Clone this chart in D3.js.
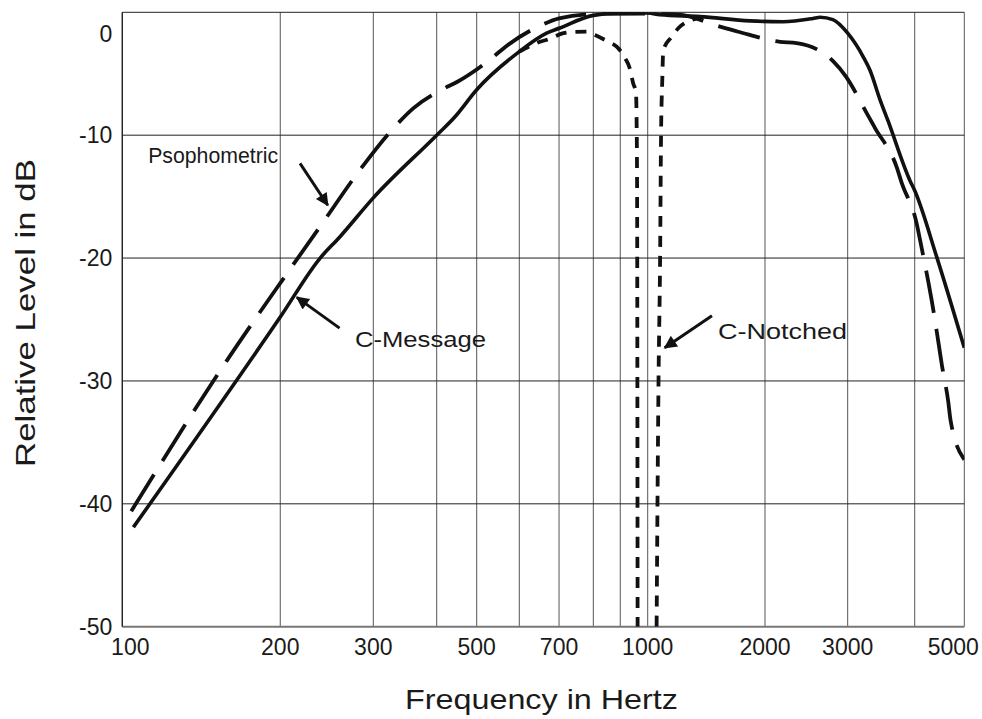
<!DOCTYPE html>
<html>
<head>
<meta charset="utf-8">
<script src="https://cdn.jsdelivr.net/npm/d3@7"></script>
<style>
  html, body { margin: 0; padding: 0; background: #fff; }
  svg { display: block; }
  text { font-family: "Liberation Sans", Arial, sans-serif; fill: #1a1a1a; }
</style>
</head>
<body>
<svg id="chart" width="982" height="719"></svg>
<script>
// Frequency gridlines (Hz) and level ticks (dB)
const freqGrid = [100, 200, 300, 400, 500, 600, 700, 800, 900, 1000, 2000, 3000, 4000, 5000];
const freqLabels = [100, 200, 300, 500, 700, 1000, 2000, 3000, 5000];
const levelTicks = [0, -10, -20, -30, -40, -50];

// The log paper is not evenly ruled: relative position of each frequency line
const freqStops = [0, 0.1876, 0.2981, 0.3734, 0.4209, 0.4715, 0.5187, 0.5594, 0.5914, 0.6240, 0.7633, 0.8615, 0.9411, 1];

// C-Message weighting [Hz, dB]
const cMessage = [
  [105, -41.9], [200, -24.8], [238, -20.0], [259, -18.3], [300, -15.1], [400, -10.0],
  [443, -8.5], [500, -6.3], [600, -3.2], [667, -1.7], [700, -1.3], [800, -0.25],
  [900, -0.05], [1000, -0.05], [1075, -0.2], [1362, -0.35], [1830, -0.7], [2185, -0.77],
  [2530, -0.5], [2620, -0.4], [2790, -0.6], [3000, -1.7], [3205, -3.6], [3300, -4.7],
  [3446, -7.1], [3565, -8.8], [3920, -13.7], [4000, -14.5], [4416, -19.9], [5000, -27.3]
];

// Psophometric weighting [Hz, dB]
const psophometric = [
  [104, -40.6], [159, -28.2], [206, -21.25], [240, -17.2], [280, -13.1], [331, -9.3],
  [360, -7.8], [411, -6.3], [449, -5.65], [533, -3.74], [568, -2.74], [655, -1.03],
  [700, -0.5], [800, -0.15], [1000, -0.1], [1210, -0.2], [1533, -1.17], [1708, -1.58],
  [2152, -2.4], [2336, -2.5], [2796, -4.0], [2970, -5.2], [3255, -8.2], [3372, -9.4],
  [3702, -12.6], [3784, -13.9], [4036, -17.2], [4096, -18.5], [4251, -21.9], [4316, -23.4],
  [4448, -26.8], [4516, -28.6], [4652, -31.7], [4700, -33.2], [5000, -36.4]
];

// C-Notched weighting where it departs from C-Message [Hz, dB]; null = off scale
const cNotched = [
  [600, -3.2], [650, -2.4], [671, -2.2], [712, -1.7], [735, -1.6], [780, -1.58],
  [806, -1.85], [854, -2.4], [886, -2.8], [916, -3.7], [934, -4.6], [946, -5.8],
  [956, -6.5], [958, -8.4], [960, -14], [962, -50], [1000, null], [1054, -50],
  [1066, -30], [1076, -20], [1082, -10], [1090, -5.5], [1096, -3.1], [1152, -2.0],
  [1198, -1.3], [1297, -0.63], [1400, -0.4]
];

// Callouts: label anchor, arrow tail, arrow tip [Hz, dB]
const callouts = [
  { text: "Psophometric", at: [112, -12.27], from: [218, -12.3], to: [246, -15.7], len: 130 },
  { text: "C-Message",   at: [277, -27.2],  from: [259, -25.7], to: [215, -23.2], len: 131 },
  { text: "C-Notched",   at: [1515, -26.6], from: [1462, -24.7], to: [1106, -27.3], len: 129 }
];

const svg = d3.select("#chart");
const margin = { left: 122.3, top: 12.3, right: 17.7, bottom: 92.3 };
const W = 982 - margin.left - margin.right;
const H = 719 - margin.top - margin.bottom;

const x = d3.scaleLog()
  .domain(freqGrid)
  .range(freqStops.map(s => margin.left + s * W));
const y = d3.scaleLinear().domain([-50, 0]).range([margin.top + H, margin.top]);

const defs = svg.append("defs");
defs.append("clipPath").attr("id", "plot")
  .append("rect").attr("x", margin.left).attr("y", margin.top).attr("width", W).attr("height", H);

// vertical grid
svg.append("g").selectAll("line").data(freqGrid).join("line")
  .attr("x1", d => x(d)).attr("x2", d => x(d))
  .attr("y1", y(0)).attr("y2", y(-50))
  .attr("stroke", "#555").attr("stroke-width", 1);

// horizontal grid
svg.append("g").selectAll("line").data(levelTicks).join("line")
  .attr("x1", x(100)).attr("x2", x(5000))
  .attr("y1", d => y(d)).attr("y2", d => y(d))
  .attr("stroke", d => d === -50 ? "#777" : "#222")
  .attr("stroke-width", d => d === -50 ? 2 : 1);

// left edge
svg.append("line")
  .attr("x1", x(100)).attr("x2", x(100)).attr("y1", y(0)).attr("y2", y(-50))
  .attr("stroke", "#222").attr("stroke-width", 1.3);

// y tick labels (the top one sits just below the frame)
svg.append("g").selectAll("text").data(levelTicks).join("text")
  .attr("x", x(100) - 10)
  .attr("y", d => d === 0 ? y(d) + 22 : y(d))
  .attr("dy", "0.35em")
  .attr("text-anchor", "end")
  .attr("font-size", 23)
  .text(d => d);

// x tick labels
svg.append("g").selectAll("text").data(freqLabels).join("text")
  .attr("x", d => Math.min(Math.max(x(d), x(100) + 8), x(5000) - 11))
  .attr("y", y(-50) + 28)
  .attr("text-anchor", "middle")
  .attr("font-size", 23)
  .text(d => d);

// axis titles
svg.append("text")
  .attr("x", 541.5).attr("y", 709)
  .attr("text-anchor", "middle")
  .attr("font-size", 28)
  .attr("textLength", 273).attr("lengthAdjust", "spacingAndGlyphs")
  .text("Frequency in Hertz");

svg.append("text")
  .attr("transform", "translate(35,313) rotate(-90)")
  .attr("text-anchor", "middle")
  .attr("font-size", 28)
  .attr("textLength", 308).attr("lengthAdjust", "spacingAndGlyphs")
  .text("Relative Level in dB");

// curves
const line = d3.line()
  .defined(d => d[1] != null)
  .x(d => x(d[0])).y(d => y(d[1]))
  .curve(d3.curveMonotoneX);

const curves = svg.append("g").attr("clip-path", "url(#plot)");

curves.append("path").datum(cNotched)
  .attr("d", line).attr("fill", "none")
  .attr("stroke", "#111").attr("stroke-width", 3.8)
  .attr("stroke-dasharray", "11,9");

curves.append("path").datum(psophometric)
  .attr("d", line).attr("fill", "none")
  .attr("stroke", "#111").attr("stroke-width", 3.8)
  .attr("stroke-dasharray", "43,16");

curves.append("path").datum(cMessage)
  .attr("d", line).attr("fill", "none")
  .attr("stroke", "#111").attr("stroke-width", 3.6);

// callouts
defs.append("marker").attr("id", "head")
  .attr("viewBox", "0 0 10 10").attr("refX", 9).attr("refY", 5)
  .attr("markerWidth", 18).attr("markerHeight", 13).attr("markerUnits", "userSpaceOnUse")
  .attr("orient", "auto")
  .append("path").attr("d", "M0,0 L10,5 L0,10 Z").attr("fill", "#111");

const co = svg.append("g");
co.selectAll("line").data(callouts).join("line")
  .attr("x1", d => x(d.from[0])).attr("y1", d => y(d.from[1]))
  .attr("x2", d => x(d.to[0])).attr("y2", d => y(d.to[1]))
  .attr("stroke", "#111").attr("stroke-width", 3)
  .attr("marker-end", "url(#head)");

co.selectAll("text").data(callouts).join("text")
  .attr("x", d => x(d.at[0])).attr("y", d => y(d.at[1]))
  .attr("font-size", 22)
  .attr("textLength", d => d.len).attr("lengthAdjust", "spacingAndGlyphs")
  .text(d => d.text);
</script>
</body>
</html>
